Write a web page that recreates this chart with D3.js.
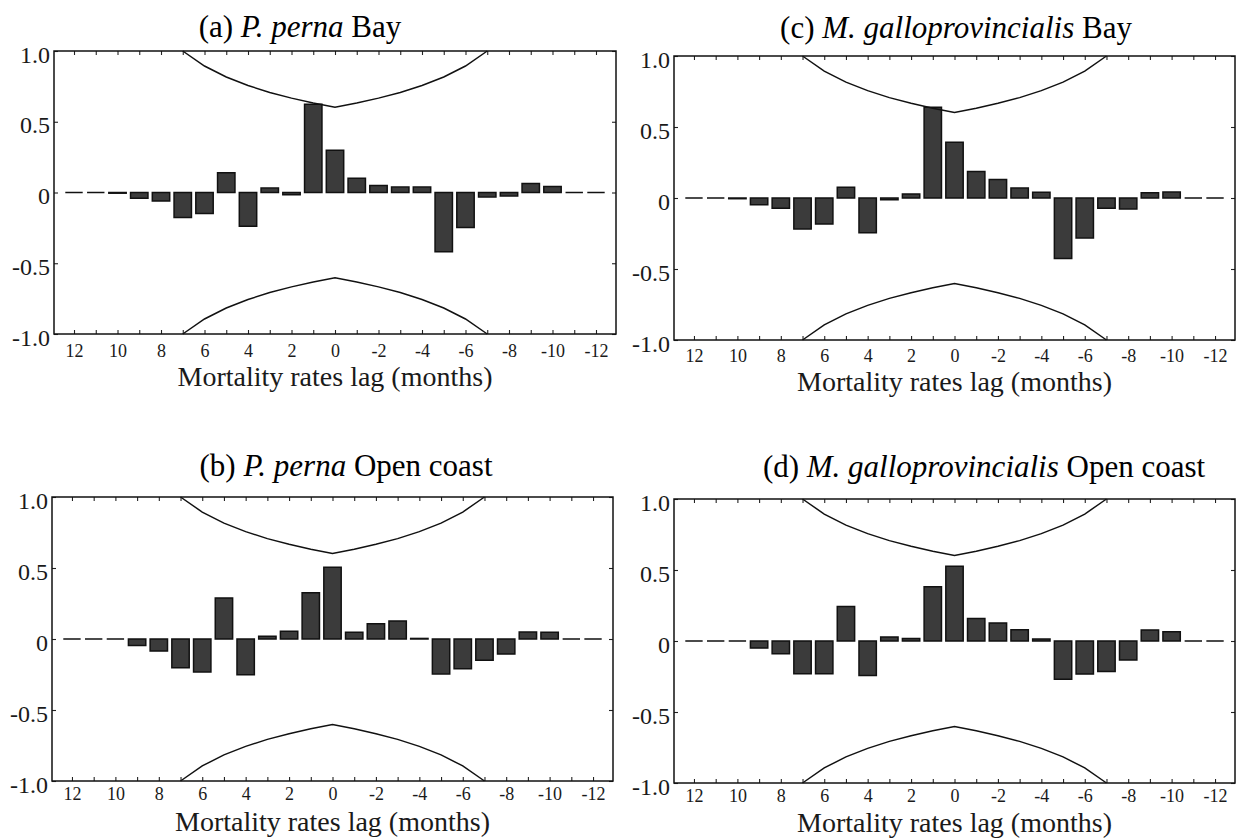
<!DOCTYPE html>
<html>
<head>
<meta charset="utf-8">
<script src="https://cdn.jsdelivr.net/npm/d3@7"></script>
<style>
  html, body { margin: 0; padding: 0; background: #ffffff; }
  svg { display: block; }
</style>
</head>
<body>
<svg id="chart" width="1236" height="839"></svg>
<script>
// Cross-correlation of mortality rates at lags 12 .. -12 months
const lags = [12, 11, 10, 9, 8, 7, 6, 5, 4, 3, 2, 1, 0, -1, -2, -3, -4, -5, -6, -7, -8, -9, -10, -11, -12];

const pernaBay = [0, 0, -0.005, -0.04, -0.06, -0.176, -0.148, 0.139, -0.238, 0.031, -0.016, 0.624, 0.299, 0.101, 0.049, 0.038, 0.038, -0.419, -0.247, -0.031, -0.024, 0.064, 0.043, 0, 0];
const gallBay = [0, 0, -0.005, -0.047, -0.073, -0.218, -0.183, 0.075, -0.244, -0.012, 0.028, 0.639, 0.393, 0.187, 0.131, 0.070, 0.040, -0.426, -0.281, -0.073, -0.077, 0.037, 0.042, 0, 0];
const pernaOpen = [0, 0, 0, -0.045, -0.085, -0.202, -0.232, 0.289, -0.251, 0.019, 0.054, 0.326, 0.505, 0.047, 0.108, 0.127, 0.004, -0.246, -0.209, -0.150, -0.106, 0.049, 0.047, 0, 0];
const gallOpen = [0, 0, 0, -0.05, -0.09, -0.231, -0.231, 0.243, -0.243, 0.028, 0.017, 0.382, 0.526, 0.158, 0.127, 0.080, 0.014, -0.269, -0.233, -0.215, -0.134, 0.078, 0.066, 0, 0];

// Confidence limits (upper; lower is the mirror image) for lags 7 .. -7
const bandLags = [7, 6, 5, 4, 3, 2, 1, 0, -1, -2, -3, -4, -5, -6, -7];
const bandUpper = [1.0, 0.894, 0.816, 0.756, 0.707, 0.667, 0.632, 0.603, 0.632, 0.667, 0.707, 0.756, 0.816, 0.894, 1.0];

const yTickValues = [-1, -0.5, 0, 0.5, 1];
const yTickLabels = ["-1.0", "-0.5", "0", "0.5", "1.0"];
const xLabelLags = [12, 10, 8, 6, 4, 2, 0, -2, -4, -6, -8, -10, -12];
const xAxisTitle = "Mortality rates lag (months)";

const FONT = '"Liberation Serif", "Times New Roman", Times, serif';

const panels = [
  { tag: "(a) ", species: "P. perna", site: " Bay", values: pernaBay,
    box: { left: 54, right: 616, top: 51, bottom: 334 }, titleX: 300, titleY: 37, tickPad: 10, labelGap: 52 },
  { tag: "(c) ", species: "M. galloprovincialis", site: " Bay", values: gallBay,
    box: { left: 674, right: 1235, top: 56, bottom: 340 }, titleX: 956, titleY: 38, tickPad: 9, labelGap: 51 },
  { tag: "(b) ", species: "P. perna", site: " Open coast", values: pernaOpen,
    box: { left: 52, right: 613, top: 497, bottom: 781 }, titleX: 346, titleY: 476, tickPad: 6, labelGap: 50 },
  { tag: "(d) ", species: "M. galloprovincialis", site: " Open coast", values: gallOpen,
    box: { left: 674, right: 1235, top: 499, bottom: 783 }, titleX: 984, titleY: 477, tickPad: 6, labelGap: 49 }
];

const svg = d3.select("#chart").attr("font-family", FONT);

panels.forEach(p => {
  const b = p.box;
  const x = d3.scaleLinear().domain([12.92, -12.92]).range([b.left, b.right]);
  const y = d3.scaleLinear().domain([-1, 1]).range([b.bottom, b.top]);
  const step = Math.abs(x(0) - x(1));
  const barW = step * 0.8;

  const g = svg.append("g");

  // Title with italic species name
  const title = g.append("text")
    .attr("x", p.titleX).attr("y", p.titleY)
    .attr("text-anchor", "middle")
    .style("font-family", FONT)
    .style("font-size", "31px");
  title.append("tspan").text(p.tag);
  title.append("tspan").style("font-style", "italic").text(p.species);
  title.append("tspan").text(p.site);

  // Bars (drawn as closed paths so zero-valued lags still show as a dash)
  g.append("g").selectAll("path")
    .data(lags.map((l, i) => ({ lag: l, v: p.values[i] })))
    .join("path")
    .attr("d", d => {
      const x0 = x(d.lag) - barW / 2, x1 = x(d.lag) + barW / 2;
      const y0 = y(0), y1 = y(d.v);
      return `M${x0},${y0}H${x1}V${y1}H${x0}Z`;
    })
    .attr("fill", "#3b3b3b")
    .attr("stroke", "#111")
    .attr("stroke-width", 1.5);

  // Confidence limits
  const line = d3.line().x(d => x(d[0])).y(d => y(d[1]));
  g.append("path")
    .datum(bandLags.map((l, i) => [l, bandUpper[i]]))
    .attr("d", line).attr("fill", "none").attr("stroke", "#111").attr("stroke-width", 1.5);
  g.append("path")
    .datum(bandLags.map((l, i) => [l, -bandUpper[i]]))
    .attr("d", line).attr("fill", "none").attr("stroke", "#111").attr("stroke-width", 1.5);

  // Axes with inward ticks
  const yLeft = d3.axisLeft(y).tickValues(yTickValues)
    .tickFormat((d, i) => yTickLabels[i]).tickSize(-4).tickPadding(4);
  const ga = g.append("g").attr("transform", `translate(${b.left},0)`).call(yLeft);
  ga.attr("font-family", FONT);
  ga.selectAll("text")
    .style("font-family", FONT).style("font-size", "24px")
    .attr("dy", "0.46em").attr("fill", "#1a1a1a");

  const yRight = d3.axisRight(y).tickValues(yTickValues).tickFormat("").tickSize(-4);
  g.append("g").attr("transform", `translate(${b.right},0)`).call(yRight);

  const xBottom = d3.axisBottom(x).tickValues(lags)
    .tickFormat(d => xLabelLags.includes(d) ? String(d) : "").tickSize(-4).tickPadding(p.tickPad);
  const gb = g.append("g").attr("transform", `translate(0,${b.bottom})`).call(xBottom);
  gb.attr("font-family", FONT);
  gb.selectAll("text")
    .style("font-family", FONT).style("font-size", "18px").attr("fill", "#1a1a1a");

  const xTop = d3.axisTop(x).tickValues(lags).tickFormat("").tickSize(-4);
  g.append("g").attr("transform", `translate(0,${b.top})`).call(xTop);

  g.selectAll(".domain").remove();
  g.selectAll(".tick line").attr("stroke", "#222").attr("stroke-width", 1.1);

  // Frame
  g.append("rect")
    .attr("x", b.left).attr("y", b.top)
    .attr("width", b.right - b.left).attr("height", b.bottom - b.top)
    .attr("fill", "none").attr("stroke", "#111").attr("stroke-width", 1.5);

  // Axis title
  g.append("text")
    .attr("x", (b.left + b.right) / 2).attr("y", b.bottom + p.labelGap)
    .attr("text-anchor", "middle")
    .attr("fill", "#1a1a1a")
    .style("font-family", FONT)
    .style("font-size", "28px")
    .text(xAxisTitle);
});
</script>
</body>
</html>
